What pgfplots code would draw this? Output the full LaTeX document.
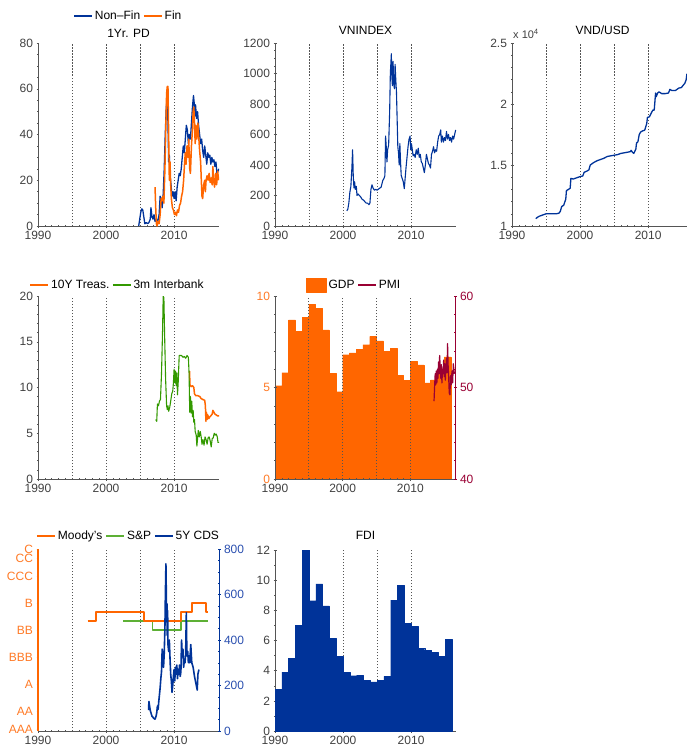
\documentclass[border=0pt]{standalone}
\usepackage{pgfplots}
\pgfplotsset{compat=1.18}
\usepackage{fontspec}
\setmainfont{Liberation Sans}

\definecolor{cblue}{HTML}{003399}
\definecolor{corange}{HTML}{FF6600}
\definecolor{cgreen}{HTML}{339900}
\definecolor{clgreen}{HTML}{5DB035}
\definecolor{cred}{HTML}{990033}
\definecolor{ctick}{HTML}{404040}
\definecolor{cgrid}{HTML}{555555}
\definecolor{clorange}{HTML}{FF7A26}
\definecolor{clblue}{HTML}{2A4FAF}

\pgfplotsset{
  panel/.style={
    width=181pt, height=183pt, scale only axis,
    anchor=south west,
    xmin=1990, xmax=2016.6,
    xtick={1990,2000,2010},
    minor x tick num=9,
    axis x line*=bottom, axis y line*=left,
    axis line style={cgrid, line width=0.7pt},
    tick style={cgrid, line width=0.5pt},
    major tick length=3pt, minor tick length=1.5pt,
    tick align=center,
    ticklabel style={font=\fontsize{12}{14}\selectfont, text=ctick},
    /pgf/number format/assume math mode=true,
    /pgf/number format/1000 sep={},
    scaled y ticks=false,
    extra x ticks={1995,2000,2005,2010},
    extra x tick labels={},
    extra x tick style={grid=major, major tick length=0pt,
      major grid style={cgrid, dash pattern=on 1.5pt off 1.5pt, line width=0.7pt}},
    title style={font=\fontsize{12}{14}\selectfont, at={(0.5,1.07)}, anchor=center, yshift=-6pt},
    legend style={draw=none, fill=none, font=\fontsize{12}{14}\selectfont,
      legend columns=-1, at={(0.5,1.148)}, anchor=center, inner sep=0pt,
      /tikz/every even column/.append style={column sep=1pt}},
    legend image code/.code={\draw[#1] (0pt,0pt) -- (18pt,0pt);},
    every axis plot/.append style={line join=round},
  },
  secondy/.style={
    panel, axis y line*=right, axis x line=none,
    xtick=\empty, minor x tick num=0, extra x ticks={},
  },
}

\begin{document}
\begin{tikzpicture}
\path[use as bounding box] (0pt,0pt) rectangle (686pt,-752pt);

% ---- 1Yr. PD
\begin{axis}[panel, at={(38pt,-226pt)},
  ymin=0, ymax=80, ytick={0,20,...,80}, minor y tick num=3,
  title={1Yr. PD}, title style={at={(0.5,1.055)}}]
\addplot[cblue, line width=1.3pt] coordinates {
(2004.8,0) (2004.95,3) (2005.1,6) (2005.25,7.5) (2005.4,7) (2005.55,4) (2005.7,1) (2005.9,1.5)
(2006.1,1) (2006.3,1.5) (2006.5,3) (2006.6,8) (2006.75,4) (2006.9,3) (2007.05,5) (2007.2,2)
(2007.4,3) (2007.6,2) (2007.8,5) (2007.95,13) (2008.1,12) (2008.25,8) (2008.4,14) (2008.55,25)
(2008.7,40) (2008.85,52) (2009.0,56) (2009.1,45) (2009.2,28) (2009.3,31) (2009.4,22) (2009.55,18)
(2009.7,13) (2009.85,15) (2010.0,12) (2010.15,15) (2010.3,11) (2010.45,17) (2010.6,20) (2010.75,23)
(2010.9,22) (2011.05,25) (2011.2,30) (2011.35,35) (2011.5,32) (2011.65,38) (2011.8,44) (2011.95,42)
(2012.1,36) (2012.25,40) (2012.4,38) (2012.55,45) (2012.7,52) (2012.85,57) (2012.95,54) (2013.05,48)
(2013.15,53) (2013.3,47) (2013.45,50) (2013.6,44) (2013.75,40) (2013.9,36) (2014.05,38) (2014.2,33)
(2014.35,30) (2014.5,35) (2014.65,31) (2014.8,27) (2014.95,32) (2015.1,30) (2015.25,31) (2015.4,27)
(2015.55,30) (2015.7,28) (2015.85,29) (2016.0,26) (2016.15,28) (2016.3,23) (2016.45,24) (2016.6,25)};
\addlegendentry{Non–Fin}
\addplot[corange, line width=1.5pt] coordinates {
(2007.2,17) (2007.3,8) (2007.4,1) (2007.5,0) (2007.65,2) (2007.8,1) (2007.95,5) (2008.1,12)
(2008.2,11) (2008.35,13) (2008.5,10) (2008.65,25) (2008.8,45) (2008.9,58) (2009.0,61) (2009.1,61)
(2009.2,40) (2009.3,20) (2009.4,28) (2009.5,18) (2009.6,12) (2009.75,8) (2009.9,7) (2010.05,5)
(2010.2,6) (2010.35,4.5) (2010.5,7) (2010.65,6) (2010.8,9) (2010.95,10) (2011.1,13) (2011.25,15)
(2011.4,20) (2011.55,28) (2011.65,32) (2011.75,27) (2011.9,35) (2012.05,30) (2012.15,38) (2012.3,25)
(2012.4,23) (2012.55,35) (2012.7,42) (2012.8,50) (2012.9,52) (2013.0,45) (2013.1,36) (2013.2,44)
(2013.35,38) (2013.5,45) (2013.6,40) (2013.75,33) (2013.9,28) (2014.0,20) (2014.1,13) (2014.2,12)
(2014.35,18) (2014.5,20) (2014.6,15) (2014.7,20) (2014.85,22) (2015.0,20) (2015.15,23) (2015.3,19)
(2015.45,21) (2015.6,18) (2015.7,26) (2015.8,20) (2015.95,17) (2016.1,23) (2016.25,18) (2016.4,24) (2016.55,20)};
\addlegendentry{Fin}
\end{axis}

% ---- VNINDEX
\begin{axis}[panel, at={(275pt,-226pt)},
  ymin=0, ymax=1200, ytick={0,200,...,1200}, minor y tick num=3,
  title={VNINDEX}]
\addplot[cblue, line width=1.1pt] coordinates {
(2000.55,100) (2000.7,110) (2000.85,150) (2001.0,220) (2001.15,260) (2001.3,380) (2001.4,500) (2001.5,330)
(2001.6,250) (2001.7,290) (2001.8,240) (2001.95,260) (2002.05,200) (2002.2,210) (2002.4,200) (2002.6,190)
(2002.8,175) (2003.0,170) (2003.2,160) (2003.4,150) (2003.6,150) (2003.8,140) (2003.95,150) (2004.1,240)
(2004.25,270) (2004.4,250) (2004.6,235) (2004.8,240) (2005.0,235) (2005.3,245) (2005.6,255) (2005.85,300)
(2006.0,310) (2006.15,330) (2006.25,590) (2006.35,520) (2006.45,420) (2006.55,500) (2006.7,530) (2006.85,750)
(2006.95,1000) (2007.1,1130) (2007.15,1000) (2007.25,920) (2007.35,1080) (2007.45,930) (2007.55,900) (2007.65,1060)
(2007.75,960) (2007.85,880) (2007.95,700) (2008.05,520) (2008.15,480) (2008.25,400) (2008.35,540) (2008.45,420)
(2008.55,330) (2008.7,310) (2008.85,290) (2009.0,245) (2009.1,300) (2009.25,380) (2009.4,450) (2009.55,520)
(2009.7,570) (2009.85,590) (2009.95,500) (2010.05,540) (2010.15,510) (2010.3,460) (2010.45,470) (2010.6,450)
(2010.75,500) (2010.9,470) (2011.05,510) (2011.2,450) (2011.35,470) (2011.5,420) (2011.65,410) (2011.8,380)
(2011.95,350) (2012.1,400) (2012.25,470) (2012.4,440) (2012.55,410) (2012.7,400) (2012.85,380) (2013.0,470)
(2013.15,490) (2013.3,520) (2013.45,480) (2013.6,500) (2013.75,490) (2013.9,550) (2014.05,590) (2014.2,600)
(2014.35,630) (2014.45,550) (2014.6,590) (2014.75,550) (2014.9,580) (2015.05,560) (2015.2,620) (2015.35,570)
(2015.5,600) (2015.65,560) (2015.8,580) (2015.95,550) (2016.1,590) (2016.25,570) (2016.4,600) (2016.55,630)};
\end{axis}

% ---- VND/USD
\begin{axis}[panel, at={(512pt,-226pt)},
  ymin=10000, ymax=25000, ytick={10000,15000,20000,25000},
  yticklabels={1,1.5,2,2.5}, minor y tick num=4,
  title={VND/USD},
  after end axis/.code={
    \node[anchor=south west, font=\fontsize{11}{13}\selectfont, text=ctick, inner sep=1pt, yshift=3pt]
      at (rel axis cs:0,1) {x 10\textsuperscript{4}};
  }]
\addplot[cblue, line width=1.3pt] coordinates {
(1993.5,10600) (1993.7,10700) (1994.0,10800) (1994.5,10900) (1995.0,11000) (1995.5,11000) (1996.0,11000)
(1996.5,11000) (1996.9,11050) (1997.1,11200) (1997.3,11600) (1997.6,11700) (1997.9,12200) (1998.0,12900)
(1998.3,13000) (1998.55,13100) (1998.65,13900) (1999.0,13850) (1999.5,13950) (2000.0,14050) (2000.4,14100)
(2000.6,14400) (2001.0,14500) (2001.3,14600) (2001.5,15000) (2002.0,15200) (2002.5,15350) (2003.0,15450)
(2003.5,15550) (2004.0,15700) (2004.5,15750) (2005.0,15800) (2005.5,15850) (2006.0,15950) (2006.5,16000)
(2007.0,16050) (2007.4,16100) (2007.5,16200) (2007.7,16050) (2007.9,15950) (2008.2,16300) (2008.3,16800)
(2008.5,16900) (2008.7,17500) (2008.9,17700) (2009.2,17800) (2009.5,17850) (2009.8,18400) (2009.9,18900)
(2010.2,18950) (2010.5,19300) (2010.7,19500) (2010.9,19500) (2011.1,20900) (2011.2,20600) (2011.4,20900)
(2011.6,21000) (2012.0,20850) (2012.5,20850) (2013.0,20900) (2013.2,21200) (2013.5,21100) (2014.0,21100)
(2014.5,21300) (2014.9,21350) (2015.1,21500) (2015.4,21700) (2015.6,22000) (2015.7,22450) (2016.5,22500)};
\end{axis}

% ---- rates
\begin{axis}[panel, at={(38pt,-479pt)},
  ymin=0, ymax=20, ytick={0,5,...,20}, minor y tick num=4,
  legend style={at={(0.44,1.06)}}]
\addplot[corange, line width=1.5pt] coordinates {
(2012.27,11.8) (2012.33,10.3) (2012.5,10.1) (2012.7,10.2) (2012.9,10.0) (2013.0,9.3) (2013.2,9.1)
(2013.5,9.1) (2013.8,9.0) (2013.95,8.8) (2014.2,8.7) (2014.5,8.6) (2014.6,8.0) (2014.68,6.3)
(2014.75,7.3) (2014.85,6.5) (2014.95,7.0) (2015.1,6.6) (2015.25,6.8) (2015.4,6.9) (2015.6,7.1)
(2015.7,7.5) (2015.85,7.3) (2016.0,7.1) (2016.2,7.0) (2016.4,6.9) (2016.6,6.9)};
\addlegendentry{10Y Treas.}
\addplot[cgreen, line width=1.1pt] coordinates {
(2007.3,6.5) (2007.45,6.3) (2007.55,8.2) (2007.7,8.0) (2007.85,8.5) (2008.0,8.7) (2008.15,11.5) (2008.3,16)
(2008.4,20) (2008.5,19.8) (2008.6,16) (2008.75,11) (2008.9,8) (2009.0,7.6) (2009.1,8.0) (2009.2,7.4)
(2009.35,7.8) (2009.5,8.5) (2009.65,9.3) (2009.8,9.6) (2009.9,10.5) (2010.0,12) (2010.1,10.5) (2010.2,11.8)
(2010.3,10.2) (2010.4,11.6) (2010.5,9.2) (2010.6,10.5) (2010.75,13.5) (2010.9,13.5) (2011.1,13.5) (2011.3,13.3)
(2011.5,13.4) (2011.7,13.2) (2011.9,13.5) (2012.1,13.3) (2012.2,11.6) (2012.3,7.3) (2012.4,9.0) (2012.5,7.2)
(2012.6,8.5) (2012.7,6.8) (2012.8,7.5) (2012.9,6.2) (2013.0,6.5) (2013.1,5.2) (2013.25,4.8) (2013.35,3.6)
(2013.45,4.4) (2013.55,5.3) (2013.7,4.6) (2013.85,5.2) (2014.0,4.5) (2014.1,3.8) (2014.25,4.3) (2014.4,3.7)
(2014.55,4.6) (2014.7,4.3) (2014.85,3.8) (2015.0,4.5) (2015.15,4.6) (2015.3,4.2) (2015.45,3.5) (2015.6,4.4)
(2015.75,4.5) (2015.9,5.0) (2016.05,4.8) (2016.2,4.9) (2016.35,4.6) (2016.45,4.0) (2016.6,4.0)};
\addlegendentry{3m Interbank}
\end{axis}

% ---- GDP / PMI
\begin{axis}[panel, at={(275pt,-479pt)}, width=180pt, axis on top,
  ymin=0, ymax=10, ytick={0,5,10}, minor y tick num=4,
  yticklabel style={text=clorange}]
\addplot[ybar interval, fill=corange, draw=corange, line width=0.3pt] coordinates {
(1990,5.1) (1991,5.81) (1992,8.7) (1993,8.08) (1994,8.84) (1995,9.54) (1996,9.34) (1997,8.15)
(1998,5.76) (1999,4.77) (2000,6.79) (2001,6.89) (2002,7.08) (2003,7.34) (2004,7.79) (2005,7.55)
(2006,6.98) (2007,7.13) (2008,5.66) (2009,5.4) (2010,6.42) (2011,6.24) (2012,5.25) (2013,5.42)
(2014,5.98) (2015,6.68) (2016,6.68)};
\end{axis}
\begin{axis}[secondy, at={(275pt,-479pt)}, width=180pt,
  ymin=40, ymax=60, ytick={40,50,60}, minor y tick num=4,
  axis line style={cred, line width=0.8pt}, tick style={cred},
  yticklabel style={text=cred},
  legend style={at={(0.44,1.06)}}]
\addlegendimage{legend image code/.code={\fill[corange] (0pt,-7pt) rectangle (20pt,7pt);}}
\addlegendentry{GDP}
\addplot[cred, line width=1.2pt] coordinates {
(2013.5,48.5) (2013.58,50) (2013.67,51.5) (2013.75,50.3) (2013.83,51.8) (2013.92,50.5) (2014.0,52)
(2014.08,51) (2014.17,52.8) (2014.25,51.5) (2014.33,53.5) (2014.42,52.2) (2014.5,51) (2014.58,52.5)
(2014.67,50.5) (2014.75,52) (2014.83,51.5) (2014.92,53) (2015.0,51.2) (2015.08,52.6) (2015.17,50.8)
(2015.25,52) (2015.33,53.2) (2015.42,51.6) (2015.5,54.8) (2015.58,52.5) (2015.67,51.0) (2015.75,49.4)
(2015.85,49.2) (2015.95,51.3) (2016.05,50.3) (2016.15,51.8) (2016.25,50.5) (2016.35,52.6) (2016.5,51.5)};
\addlegendentry{PMI}
\end{axis}

% ---- ratings / CDS
\begin{axis}[panel, at={(38pt,-731pt)}, height=182pt,
  ymin=0.85, ymax=21, ytick={1,3,6,9,12,15,18,20,21},
  yticklabels={AAA,AA,A,BBB,BB,B,CCC,CC,C},
  y axis line style={corange, line width=1.2pt},
  yticklabel style={text=clorange}]
\addplot[clgreen, line width=1.6pt, const plot] coordinates {
(2002.5,13) (2006.8,12) (2011.0,13) (2015.0,13)};
\addplot[corange, line width=2pt, const plot] coordinates {
(1997.3,13) (1998.5,14) (2005.6,13) (2011.0,14) (2012.7,15) (2014.7,14) (2015.0,14)};
\end{axis}
\begin{axis}[secondy, at={(38pt,-731pt)}, height=182pt,
  ymin=0, ymax=800, ytick={0,200,...,800}, minor y tick num=3,
  axis line style={cblue, line width=0.8pt}, tick style={cblue},
  yticklabel style={text=clblue},
  legend style={at={(0.5,1.07)}}]
\addlegendimage{corange, line width=2pt}
\addlegendentry{Moody’s}
\addlegendimage{clgreen, line width=1.6pt}
\addlegendentry{S\&P}
\addplot[cblue, line width=1.6pt] coordinates {
(2006.25,92) (2006.3,130) (2006.4,110) (2006.5,90) (2006.6,80) (2006.75,65) (2006.9,60) (2007.05,55)
(2007.2,52) (2007.35,65) (2007.45,80) (2007.55,110) (2007.65,95) (2007.75,130) (2007.85,160) (2007.95,190)
(2008.05,230) (2008.15,260) (2008.25,360) (2008.35,300) (2008.45,280) (2008.55,340) (2008.65,450) (2008.72,600)
(2008.8,735) (2008.85,620) (2008.9,480) (2008.95,560) (2009.0,420) (2009.05,530) (2009.1,380) (2009.2,350)
(2009.3,400) (2009.4,320) (2009.5,250) (2009.6,220) (2009.7,170) (2009.8,200) (2009.9,240) (2010.0,270)
(2010.1,220) (2010.2,280) (2010.3,250) (2010.4,290) (2010.5,230) (2010.6,270) (2010.7,250) (2010.8,290)
(2010.9,240) (2011.0,260) (2011.1,400) (2011.2,330) (2011.3,360) (2011.4,280) (2011.5,310) (2011.6,300)
(2011.7,340) (2011.8,520) (2011.85,400) (2011.9,330) (2012.0,350) (2012.1,300) (2012.2,330) (2012.3,300)
(2012.45,380) (2012.6,300) (2012.8,280) (2013.0,240) (2013.2,210) (2013.4,180) (2013.5,250) (2013.65,270)};
\addlegendentry{5Y CDS}
\end{axis}

% ---- FDI
\begin{axis}[panel, at={(275pt,-731pt)}, height=181pt,
  ymin=0, ymax=12, ytick={0,2,...,12}, minor y tick num=1,
  title={FDI}, title style={at={(0.5,1.083)}}]
\addplot[ybar interval, fill=cblue, draw=cblue, line width=0.3pt] coordinates {
(1990,2.76) (1991,3.9) (1992,4.8) (1993,7.0) (1994,12.0) (1995,8.64) (1996,9.75) (1997,8.3)
(1998,6.15) (1999,4.93) (2000,3.87) (2001,3.67) (2002,3.7) (2003,3.38) (2004,3.25) (2005,3.38)
(2006,3.62) (2007,8.68) (2008,9.68) (2009,7.16) (2010,6.92) (2011,5.5) (2012,5.37) (2013,5.2)
(2014,4.97) (2015,6.1) (2016,6.1)};
\end{axis}
\end{tikzpicture}
\end{document}
